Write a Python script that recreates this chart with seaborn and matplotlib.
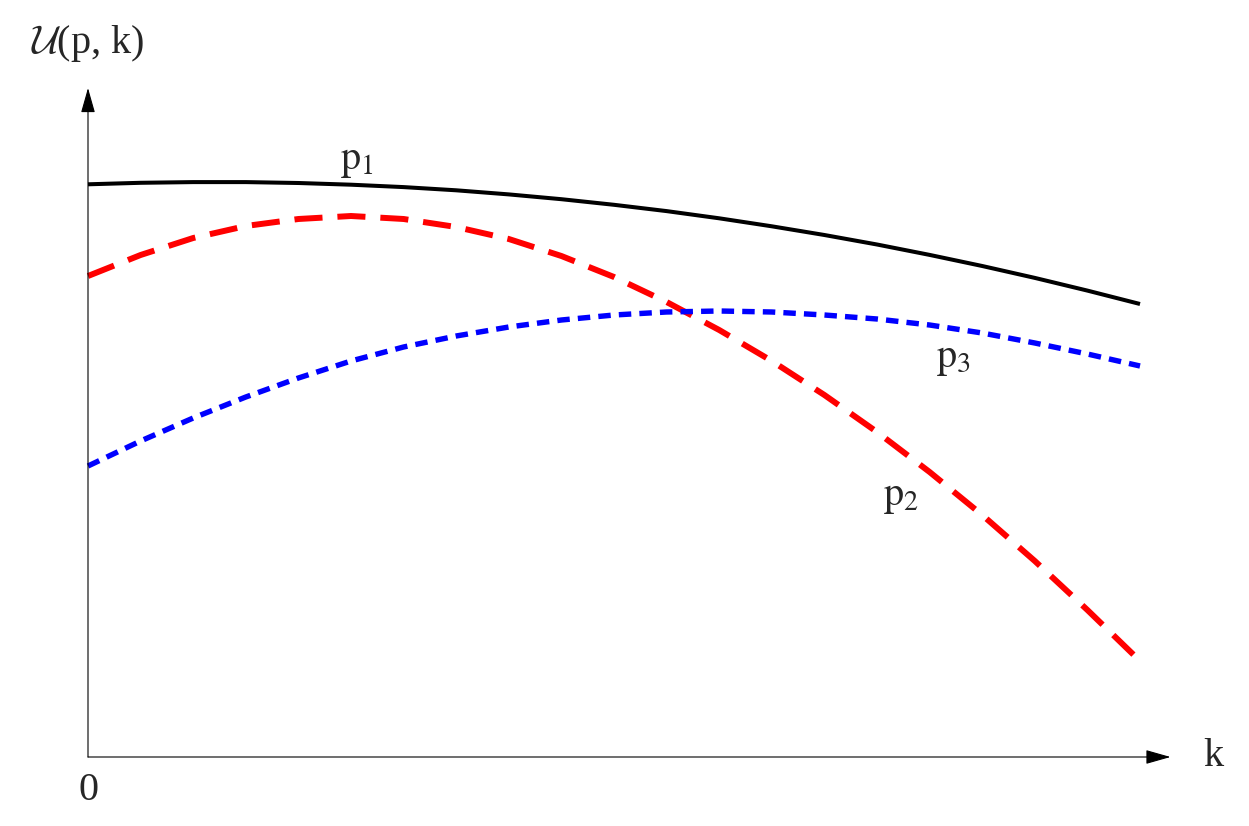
import matplotlib

matplotlib.use("Agg")

import matplotlib.pyplot as plt
import pandas as pd
import seaborn as sns

# k grid shared by the three curves (arbitrary units, 0..10)
k_values = [0.0, 0.5, 1.0, 1.5, 2.0, 2.5, 3.0, 3.5, 4.0, 4.5, 5.0,
            5.5, 6.0, 6.5, 7.0, 7.5, 8.0, 8.5, 9.0, 9.5, 10.0]

# U(p, k) for each p
u_p1 = [5.727, 5.742, 5.749, 5.749, 5.740, 5.723, 5.699, 5.667, 5.626, 5.578, 5.522,
        5.459, 5.387, 5.307, 5.220, 5.125, 5.021, 4.910, 4.791, 4.664, 4.530]
u_p2 = [4.81, 5.02, 5.19, 5.31, 5.38, 5.41, 5.38, 5.30, 5.18, 5.01, 4.80,
        4.55, 4.27, 3.96, 3.62, 3.25, 2.85, 2.42, 1.96, 1.47, 0.96]
u_p3 = [2.91, 3.16, 3.39, 3.60, 3.79, 3.96, 4.10, 4.21, 4.30, 4.37, 4.42,
        4.45, 4.46, 4.45, 4.42, 4.38, 4.32, 4.24, 4.14, 4.03, 3.91]

curve_names = ["p1", "p2", "p3"]
curve_labels = [r"$\mathrm{p}_1$", r"$\mathrm{p}_2$", r"$\mathrm{p}_3$"]
label_k = [2.56, 7.73, 8.23]
label_u = [5.96, 2.60, 3.98]

df = pd.DataFrame({
    "k": k_values * 3,
    "U": u_p1 + u_p2 + u_p3,
    "curve": [name for name in curve_names for _ in k_values],
})

sns.set_style("white")
plt.rcParams["font.family"] = ["Liberation Serif", "DejaVu Serif"]
plt.rcParams["mathtext.fontset"] = "stix"

fig = plt.figure(figsize=(12.49, 8.26), dpi=100)
ax = fig.add_axes([0, 0, 1, 1])
ax.set_xlim(-0.8365, 11.036)
ax.set_ylim(-0.69, 7.57)
ax.axis("off")

styles = {
    "p1": dict(color="black", linewidth=2.9, linestyle="-", solid_capstyle="butt"),
    "p2": dict(color="#ff0000", linewidth=4.3, linestyle=(0, (4.7, 2.5))),
    "p3": dict(color="#0000ff", linewidth=3.9, linestyle=(0, (2.3, 1.5))),
}
for name in curve_names:
    sns.lineplot(data=df[df["curve"] == name], x="k", y="U", ax=ax,
                 estimator=None, legend=False, **styles[name])

# axes with arrow heads
arrow = dict(arrowstyle="-|>,head_length=15.5,head_width=4.4", mutation_scale=1,
             color="black", lw=0.8, shrinkA=0, shrinkB=0)
ax.annotate("", xy=(10.29, 0), xytext=(0, 0), arrowprops=arrow)
ax.annotate("", xy=(0, 6.69), xytext=(0, 0), arrowprops=arrow)

fs = 29
ax.text(0.0, 7.13, r"$\mathcal{U}$(p, k)", fontsize=fs, math_fontfamily="cm",
        ha="center", va="center")
ax.text(10.70, 0.0, "k", fontsize=fs, ha="center", va="center")
ax.text(0.0, -0.33, "0", fontsize=fs, ha="center", va="center")
for lab, lk, lu in zip(curve_labels, label_k, label_u):
    ax.text(lk, lu, lab, fontsize=fs, ha="center", va="center")

fig.savefig("out.png", dpi=100)
plt.close(fig)
